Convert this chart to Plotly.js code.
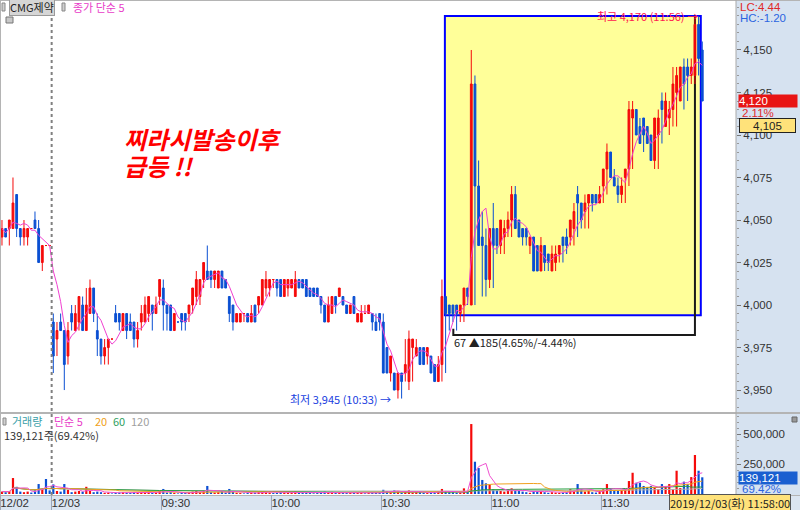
<!DOCTYPE html>
<html><head><meta charset="utf-8">
<script src="https://cdn.plot.ly/plotly-3.0.1.min.js"></script>
<style>html,body{margin:0;padding:0;background:#fff}#chart{width:800px;height:510px}</style>
</head><body><div id="chart"></div>
<script>
// ---- data (12/02 last 14 bars, then 12/03 09:00 ~ 11:57) ----
const prevDayBars = 14;
const openP = [4040,4045,4045,4045,4065,4045,4040,4040,4045,4050,4045,4025,4035,4035,
3990,3980,3990,3985,3970,3995,3985,3990,4000,3985,3995,4010,3985,3980,3970,3975,3980,3995,3995,3985,
3995,3990,3990,3980,3990,3990,3995,4000,3995,4005,4010,4000,4000,3985,3990,3995,3995,3995,4000,4005,
4005,4015,4020,4020,4015,4010,4020,4015,4005,4000,3990,3990,3995,3995,3990,4000,4000,4000,4010,4010,
4015,4015,4015,4005,4010,4010,4005,4015,4015,4015,4010,4010,4010,4005,4000,3990,3995,4005,4005,4005,
4000,3995,4005,3990,3990,3995,3995,3995,3990,3995,3990,3975,3960,3960,3950,3960,3960,3955,3975,3970,
3975,3975,3970,3970,3965,3955,3965,4005,4000,4000,4000,3995,4000,4010,4000,4130,4070,4040,4035,4015,
4045,4045,4035,4040,4045,4050,4065,4050,4045,4045,4035,4040,4035,4020,4035,4030,4020,4025,4030,4040,
4040,4040,4045,4065,4060,4055,4060,4065,4065,4060,4070,4080,4090,4075,4070,4065,4075,4080,4110,4115,
4105,4110,4105,4100,4085,4100,4120,4105,4110,4115,4125,4120,4140,4140,4135,4135,4165,4150];
const highP = [4050,4045,4050,4075,4065,4045,4050,4045,4045,4055,4050,4035,4035,4035,
3995,3990,3995,3985,3990,4000,4000,4005,4005,4010,4015,4010,3995,3980,3980,3980,3980,4000,3995,3995,
3995,3995,3990,3990,4000,4005,4005,4000,4005,4015,4015,4000,4000,3995,3990,3995,3995,4000,4010,4020,
4015,4025,4035,4020,4020,4020,4020,4015,4005,4000,3995,3995,3995,3995,4000,4000,4005,4015,4020,4015,
4015,4015,4015,4015,4015,4015,4020,4015,4015,4015,4010,4010,4010,4005,4000,4005,4005,4005,4010,4005,
4000,4000,4005,3995,4000,4000,4000,3995,3995,3995,3995,3975,3970,3960,3960,3960,3980,3985,3980,3980,
3975,3975,3975,3970,3965,3970,4015,4005,4000,4000,4000,4000,4010,4010,4150,4135,4085,4055,4045,4045,
4060,4045,4050,4050,4055,4070,4070,4050,4045,4045,4040,4040,4035,4040,4035,4030,4035,4035,4035,4040,
4045,4050,4060,4070,4060,4065,4065,4065,4065,4070,4080,4095,4090,4080,4075,4075,4080,4120,4120,4115,
4110,4110,4105,4100,4110,4115,4125,4125,4120,4140,4140,4140,4145,4145,4145,4170,4170,4155];
const lowP = [4035,4040,4035,4045,4040,4035,4035,4035,4045,4045,4025,4020,4035,4035,
3960,3970,3985,3950,3965,3985,3985,3985,3985,3985,3995,3990,3970,3965,3965,3965,3980,3990,3985,3985,
3980,3985,3975,3975,3985,3990,3990,3985,3995,4000,3985,3985,3985,3985,3990,3985,3985,3990,3995,4000,
4000,4010,4015,4010,4010,4010,4010,4010,3990,3985,3990,3990,3990,3990,3990,3990,3995,4000,4005,4005,
4010,4005,4005,4005,4005,4010,4005,4010,4010,4005,4005,4005,4005,3995,3990,3990,3995,3995,4005,4000,
3995,3995,3995,3990,3995,3995,3995,3985,3985,3985,3985,3960,3955,3960,3945,3945,3955,3950,3955,3970,
3970,3965,3965,3965,3960,3955,3955,3960,3985,3990,3985,3990,3990,4000,4000,4000,4065,4005,4005,4010,
4010,4030,4030,4030,4040,4040,4050,4040,4035,4035,4030,4030,4020,4020,4020,4020,4020,4020,4025,4025,
4030,4035,4035,4040,4045,4045,4045,4055,4060,4060,4060,4065,4075,4075,4060,4060,4060,4070,4080,4105,
4095,4090,4095,4095,4080,4080,4095,4110,4100,4105,4105,4120,4115,4120,4130,4130,4135,4140,4115];
const closeP = [4045,4040,4050,4060,4045,4040,4045,4045,4045,4045,4025,4035,4035,4035,
3970,3985,3985,3965,3985,3990,3995,4005,3985,4000,4010,3995,3980,3970,3975,3980,3980,3990,3990,3995,
3985,3985,3980,3985,3995,4000,4005,3995,4000,4015,4000,3995,3985,3995,3990,3990,3990,4000,4010,4015,
4015,4025,4015,4015,4020,4020,4010,4010,3995,3990,3995,3995,3995,3990,3995,3990,4005,4015,4015,4015,
4015,4010,4005,4015,4015,4015,4015,4010,4010,4005,4005,4005,4005,4000,3990,4000,4005,4000,4010,4000,
3995,4000,3995,3995,3995,3995,4000,3990,3985,3990,3960,3960,3970,3950,3960,3955,3965,3980,3980,3975,
3965,3965,3975,3960,3955,3965,4005,3995,3995,3995,3995,4000,4010,4005,4130,4070,4035,4035,4015,4045,
4035,4035,4050,4045,4050,4065,4045,4040,4040,4040,4040,4020,4020,4035,4025,4025,4030,4030,4035,4035,
4035,4050,4055,4060,4050,4060,4065,4060,4060,4065,4080,4090,4075,4070,4065,4070,4080,4115,4115,4100,
4095,4100,4095,4085,4110,4110,4115,4120,4115,4130,4135,4140,4130,4135,4140,4165,4145,4120];
const volume = [20000,15000,25000,133000,60000,20000,15000,20000,12000,30000,83000,40000,125000,30000,
80000,25000,20000,83000,35000,15000,20000,25000,20000,60000,
25000,15000,20000,15000,10000,12000,5000,10000,12000,15000,
10000,8000,15000,10000,12000,15000,18000,10000,12000,25000,
42000,12000,15000,10000,5000,8000,10000,12000,20000,25000,
15000,30000,67000,15000,12000,15000,20000,10000,42000,20000,
10000,8000,5000,8000,10000,12000,15000,25000,15000,12000,
8000,10000,15000,12000,10000,8000,20000,10000,12000,15000,
8000,6000,8000,15000,20000,15000,18000,10000,12000,8000,
8000,10000,12000,10000,12000,6000,8000,12000,10000,10000,
35000,25000,15000,30000,20000,10000,25000,30000,12000,15000,
15000,10000,8000,12000,15000,20000,42000,20000,15000,15000,
10000,15000,47000,25000,583000,269000,216000,117000,89000,75000,
39000,30000,25000,20000,39000,47000,33000,30000,20000,15000,
10000,25000,20000,30000,15000,10000,15000,12000,10000,12000,
15000,40000,30000,83000,40000,20000,25000,15000,12000,25000,
40000,83000,45000,30000,25000,35000,40000,108000,177000,94000,
94000,67000,56000,67000,56000,40000,83000,67000,83000,40000,
194000,50000,103000,83000,141000,325000,194000,139121];
const tickLabels = ['12/02','12/03','09:30','10:00','10:30','11:00','11:30'];
const tickBarPos = [-14, 0, 30, 60, 90, 120, 150];   // bar number where each label starts
const priceTicks = [3950, 3975, 4000, 4025, 4050, 4075, 4100, 4125, 4150];
const volTicks = [250000, 500000];

// ---- helpers ----
const xIdx = openP.map((_, k) => k - prevDayBars);
function sma(arr, p) {
  return arr.map((_, k) => {
    const s = Math.max(0, k - p + 1);
    let t = 0; for (let j = s; j <= k; j++) t += arr[j];
    return t / (k - s + 1);
  });
}
const RED = '#f50a0a', BLUE = '#0a4fd2';
const volColors = closeP.map((c, k) => c > openP[k] ? RED : BLUE);
const tickVals = tickBarPos.map(v => v - 0.5);

const H = 510, W = 800;
const px = x => x / W, py = y => 1 - y / H;
const KR = 'Noto Sans CJK KR';
const NUM = 'Liberation Sans, Arial, sans-serif';

const traces = [
  { type: 'candlestick', x: xIdx, open: openP, high: highP, low: lowP, close: closeP,
    xaxis: 'x', yaxis: 'y', whiskerwidth: 0, hoverinfo: 'skip',
    increasing: { line: { color: RED, width: 1 }, fillcolor: RED },
    decreasing: { line: { color: BLUE, width: 1 }, fillcolor: BLUE } },
  { type: 'scatter', mode: 'lines', x: xIdx, y: sma(closeP, 5), xaxis: 'x', yaxis: 'y',
    line: { color: '#f040d0', width: 1 }, hoverinfo: 'skip' },
  { type: 'bar', x: xIdx, y: volume, xaxis: 'x', yaxis: 'y2', width: 0.6,
    marker: { color: volColors, line: { width: 0 } }, hoverinfo: 'skip' },
  { type: 'scatter', mode: 'lines', x: xIdx, y: sma(volume, 120), xaxis: 'x', yaxis: 'y2', line: { color: '#b0b0b0', width: 1 } },
  { type: 'scatter', mode: 'lines', x: xIdx, y: sma(volume, 60), xaxis: 'x', yaxis: 'y2', line: { color: '#28a040', width: 1 } },
  { type: 'scatter', mode: 'lines', x: xIdx, y: sma(volume, 20), xaxis: 'x', yaxis: 'y2', line: { color: '#f0a020', width: 1 } },
  { type: 'scatter', mode: 'lines', x: xIdx, y: sma(volume, 5), xaxis: 'x', yaxis: 'y2', line: { color: '#f050d0', width: 1 } }
];

const plotRight = 736;
const shapes = [
  { type: 'rect', xref: 'paper', yref: 'paper', x0: px(plotRight), x1: 1, y0: 0, y1: 1, fillcolor: '#d6e2f0', line: { width: 0 }, layer: 'below' },
  { type: 'rect', xref: 'paper', yref: 'paper', x0: 0, x1: 1, y0: 0, y1: py(495), fillcolor: '#dbe5f1', line: { width: 0 }, layer: 'below' },
  // analysis box
  { type: 'rect', xref: 'x', yref: 'y', x0: 106.8, x1: 176.6, y0: 3994, y1: 4170, fillcolor: '#ffff99', line: { color: '#0000ff', width: 2 }, layer: 'below' },
  { type: 'path', xref: 'x', yref: 'y', path: 'M 109.1 3986 L 109.1 3982.4 L 175 3982.4 L 175 4170', line: { color: '#1a1a1a', width: 2 }, layer: 'below' },
  // panel lines
  { type: 'line', xref: 'paper', yref: 'paper', x0: 0, x1: 1, y0: py(413), y1: py(413), line: { color: '#b4b4b4', width: 2 } },
  { type: 'line', xref: 'paper', yref: 'paper', x0: 0, x1: 1, y0: py(495.5), y1: py(495.5), line: { color: '#b4b4b4', width: 1 } },
  { type: 'line', xref: 'paper', yref: 'paper', x0: 0, x1: 1, y0: py(0.5), y1: py(0.5), line: { color: '#b4b4b4', width: 1 } },
  { type: 'line', xref: 'paper', yref: 'paper', x0: px(0.5), x1: px(0.5), y0: 0, y1: 1, line: { color: '#b4b4b4', width: 1 } },
  { type: 'line', xref: 'paper', yref: 'paper', x0: px(plotRight), x1: px(plotRight), y0: 0, y1: 1, line: { color: '#a8a8a8', width: 1 } },
  // day boundary
  { type: 'line', xref: 'x', yref: 'paper', x0: -0.45, x1: -0.45, y0: py(495), y1: 1, line: { color: '#808080', width: 2, dash: 'dot' } },
  // legend icons
  { type: 'rect', xref: 'paper', yref: 'paper', x0: px(2), x1: px(5), y0: py(11), y1: py(3), fillcolor: '#d0d0d0', line: { color: '#888', width: 1 } },
  { type: 'rect', xref: 'paper', yref: 'paper', x0: px(62), x1: px(65), y0: py(11), y1: py(3), fillcolor: '#d0d0d0', line: { color: '#888', width: 1 } },
  { type: 'rect', xref: 'paper', yref: 'paper', x0: px(6), x1: px(13), y0: py(23), y1: py(17), fillcolor: '#c8c8c8', line: { color: '#777', width: 1 } },
  { type: 'rect', xref: 'paper', yref: 'paper', x0: px(3), x1: px(6), y0: py(425), y1: py(418), fillcolor: '#d0d0d0', line: { color: '#888', width: 1 } },
  { type: 'rect', xref: 'paper', yref: 'paper', x0: px(792), x1: px(797), y0: py(422), y1: py(417), fillcolor: '#999', line: { color: '#666', width: 1 } }
];
tickVals.forEach(v => shapes.push({ type: 'line', xref: 'x', yref: 'paper', x0: v, x1: v, y0: 0, y1: py(495), line: { color: '#9aa4b8', width: 1 } }));

function ann(text, x, y, color, size, opts, fam) {
  return Object.assign({ text: text, xref: 'paper', yref: 'paper', x: px(x), y: py(y), xanchor: 'left', yanchor: 'middle',
    showarrow: false, font: { family: fam || KR, size: size || 11, color: color } }, opts || {});
}
const annotations = [
  ann('CMG제약', 9, 7.5, '#222', 11, { bgcolor: '#d6d6d6', bordercolor: '#9a9a9a', borderwidth: 1, borderpad: 0 }),
  ann('종가 단순 5', 71, 7.5, '#e83cc8', 11),
  ann('거래량', 10, 421, '#3aa0a8', 11),
  ann('단순 5', 52, 421, '#e83cc8', 11),
  ann('20', 93, 421, '#f0a020', 11),
  ann('60', 111, 421, '#30a060', 11),
  ann('120', 129, 421, '#a0a0a0', 11),
  ann('139,121주(69.42%)', 2, 435, '#333', 11),
  ann('LC:4.44', 738, 7.5, '#e02828', 11.5, null, NUM),
  ann('HC:-1.20', 738, 18.5, '#2a64e0', 11.5, null, NUM),
  ann('4,120', 738, 101, '#ffffff', 11.5, { bgcolor: '#e81414', width: 58, height: 12, align: 'left', borderpad: 0 }, NUM),
  ann('2.11%', 740, 113, '#e02828', 11.5, null, NUM),
  ann('4,105', 739, 125, '#222', 11.5, { bgcolor: '#ffe27a', bordercolor: '#222', borderwidth: 1, width: 55, height: 13, align: 'center', borderpad: 0 }, NUM),
  ann('139,121', 738, 477.5, '#ffffff', 11.5, { bgcolor: '#1a5fd0', width: 58, height: 12, align: 'left', borderpad: 0 }, NUM),
  ann('69.42%', 740, 489, '#2a64e0', 11.5, null, NUM),
  ann('2019/12/03(화) 11:58:00', 669, 503, '#222', 11, { bgcolor: '#ffe27a', bordercolor: '#555', borderwidth: 1, borderpad: 0 }),
  { text: '최고 4,170 (11:56) →', xref: 'x', yref: 'y', x: 176.3, y: 4170, xanchor: 'right', yanchor: 'middle', showarrow: false, font: { family: KR, size: 11, color: '#ff2050' } },
  { text: '최저 3,945 (10:33) →', xref: 'x', yref: 'y', x: 92.6, y: 3945, xanchor: 'right', yanchor: 'middle', showarrow: false, font: { family: KR, size: 11, color: '#2040e0' } },
  { text: '67 ▲185(4.65%/-4.44%)', xref: 'x', yref: 'y', x: 108.8, y: 3978.5, xanchor: 'left', yanchor: 'middle', showarrow: false, font: { family: KR, size: 11, color: '#222' } },
  ann('<b><i>찌라시발송이후</i></b>', 122, 139, '#ff0000', 24),
  ann('<b><i>급등 !!</i></b>', 122, 166, '#ff0000', 24)
];

const layout = {
  width: W, height: H, margin: { l: 0, r: 0, t: 0, b: 0 },
  paper_bgcolor: '#ffffff', plot_bgcolor: 'rgba(0,0,0,0)', showlegend: false, hovermode: false,
  bargap: 0.3,
  xaxis: { domain: [0, px(plotRight)], range: [-14.54, 186.2], anchor: 'y2', showgrid: false, zeroline: false,
    tickmode: 'array', tickvals: tickVals, ticktext: tickLabels, ticks: '', ticklabelposition: 'outside right',
    tickfont: { family: NUM, size: 11.5, color: '#333' }, rangeslider: { visible: false }, showline: false, fixedrange: true },
  yaxis: { domain: [py(413), 1], range: [3936.5, 4179.4], anchor: 'x', side: 'right', showgrid: false, zeroline: false,
    tickmode: 'array', tickvals: priceTicks, tickformat: ',d', ticks: 'outside', ticklen: 4, tickcolor: '#777',
    tickfont: { family: NUM, size: 11.5, color: '#333' },
    minor: { tickmode: 'linear', tick0: 3950, dtick: 5, ticks: 'outside', ticklen: 2, tickcolor: '#999' } },
  yaxis2: { domain: [py(494), py(414)], range: [0, 666667], anchor: 'x', side: 'right', showgrid: false, zeroline: false,
    tickmode: 'array', tickvals: volTicks, tickformat: ',d', ticks: 'outside', ticklen: 4, tickcolor: '#777',
    tickfont: { family: NUM, size: 11.5, color: '#333' },
    minor: { tickmode: 'linear', tick0: 0, dtick: 50000, ticks: 'outside', ticklen: 2, tickcolor: '#999' } },
  shapes: shapes, annotations: annotations
};
Plotly.newPlot('chart', traces, layout, { staticPlot: true, displayModeBar: false });
</script></body></html>
